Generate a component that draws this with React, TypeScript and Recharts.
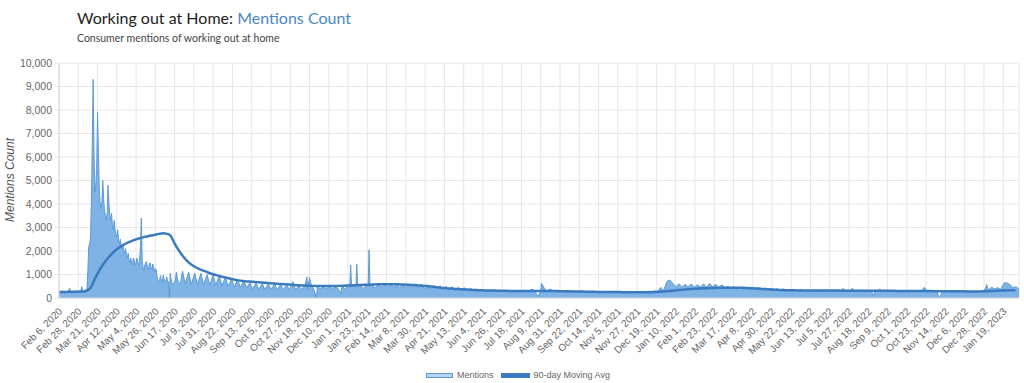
import { ComposedChart, Area, Line, XAxis, YAxis, CartesianGrid } from "recharts"

// one x label every 22 days, day 0 = Feb 6, 2020
const tickLabels = [
  "Feb 6, 2020", "Feb 28, 2020", "Mar 21, 2020", "Apr 12, 2020", "May 4, 2020", "May 26, 2020",
  "Jun 17, 2020", "Jul 9, 2020", "Jul 31, 2020", "Aug 22, 2020", "Sep 13, 2020", "Oct 5, 2020",
  "Oct 27, 2020", "Nov 18, 2020", "Dec 10, 2020", "Jan 1, 2021", "Jan 23, 2021", "Feb 14, 2021",
  "Mar 8, 2021", "Mar 30, 2021", "Apr 21, 2021", "May 13, 2021", "Jun 4, 2021", "Jun 26, 2021",
  "Jul 18, 2021", "Aug 9, 2021", "Aug 31, 2021", "Sep 22, 2021", "Oct 14, 2021", "Nov 5, 2021",
  "Nov 27, 2021", "Dec 19, 2021", "Jan 10, 2022", "Feb 1, 2022", "Feb 23, 2022", "Mar 17, 2022",
  "Apr 8, 2022", "Apr 30, 2022", "May 22, 2022", "Jun 13, 2022", "Jul 5, 2022", "Jul 27, 2022",
  "Aug 18, 2022", "Sep 9, 2022", "Oct 1, 2022", "Oct 23, 2022", "Nov 14, 2022", "Dec 6, 2022",
  "Dec 28, 2022", "Jan 19, 2023",
]
const TICK_STEP = 22
const LAST_DAY = 1096
const yTicks = [0, 1000, 2000, 3000, 4000, 5000, 6000, 7000, 8000, 9000, 10000]

// daily mentions, days 0-139 (Feb 6 - Jun 24, 2020)
const dailyMentions = [
  260, 250, 240, 270, 300, 280, 250, 240, 260, 250, 270, 310, 420, 300, 260, 250, 240,
  260, 280, 300, 270, 250, 240, 260, 280, 300, 480, 320, 280, 300, 320, 340, 380,
  1200, 2200, 2300, 2600, 4200, 6500, 9300,
  6000, 4500, 4800, 5500, 7900, 6200, 4600, 4000, 3800, 4100,
  5000, 4200, 3700, 3500, 3300, 3600, 4800, 4000, 3500, 3300,
  3600, 3000, 2900, 3300, 2900, 2700, 2600, 2900, 2400, 2300,
  2500, 2200, 2100, 2300, 2000, 1900, 2100, 1800, 1700, 1900,
  1600, 1500, 1700, 1400, 1500, 1700, 1600, 1400, 1500, 1700,
  1500, 1400, 1600, 2200, 3400, 1600, 1300, 1200, 1400, 1500,
  1550, 1300, 1200, 1400, 1500, 1300, 1200, 1450, 1300, 1100,
  1250, 1200, 900, 750, 700, 800, 950, 700, 650, 980,
  800, 650, 700, 900, 700, 700, 0, 1050, 800, 650,
  600, 650, 700, 800, 1100, 850, 700, 620, 600, 700,
]

// after that: weekly high (day 141 + 7k) and weekly low (day 144 + 7k)
const weeklyHighs = [
  1150, 1100, 1050, 1050, 1000, 980, 950, 880, 800, 780, 740,
  650, 640, 620, 600, 600, 580, 560,
  700, 520, 560, 560, 520, 500, 510, 500, 520, 500, 520, 540, 520, 560,
  600, 600, 620, 600, 610, 600, 590, 580,
  560, 540, 520, 500, 480, 460, 440, 420, 380, 350,
  330, 330, 320, 330, 320, 320, 330,
  380, 400, 420, 380,
  300, 290, 290, 290, 280, 290, 280, 280, 280, 290, 280, 280, 290, 280, 290, 290, 300,
  450, 700, 620, 600, 580, 600, 560,
  600, 620, 580, 560,
  500, 480, 460, 460, 450, 440, 430, 420, 400, 380,
  330, 340, 330, 320, 330, 320, 330, 340, 330, 330,
  340, 340, 330, 320, 330, 320, 330, 320, 310, 320,
  330, 320, 310, 320, 310, 300, 310, 300, 300, 300, 300,
  300, 420, 460, 440, 640, 560, 470,
]
const weeklyLows = [
  600, 580, 560, 560, 550, 540, 520, 500, 470, 450, 430,
  380, 370, 360, 350, 350, 340, 340,
  360, 350, 360, 370, 380, 380, 390, 380, 390, 400, 400, 410, 420, 430,
  460, 450, 450, 440, 440, 430, 420, 400,
  380, 360, 340, 320, 300, 300, 290, 280, 280, 270,
  270, 270, 260, 270, 260, 270, 270,
  300, 310, 300, 290,
  250, 250, 240, 250, 240, 250, 240, 240, 250, 240, 240, 250, 240, 240, 250, 250, 260,
  300, 500, 480, 460, 470, 450, 460,
  460, 470, 450, 440,
  380, 360, 350, 340, 340, 330, 320, 320, 300, 290,
  270, 280, 270, 270, 260, 270, 280, 270, 260, 270,
  280, 270, 270, 260, 270, 260, 270, 260, 250, 260,
  270, 260, 250, 260, 250, 250, 250, 240, 250, 240, 250,
  250, 350, 380, 360, 400, 440, 380,
]
// single-day spikes and dips [day, mentions]
const mentionSpikes: [number, number][] = [
  [283, 900], [286, 870], [294, 0], [322, 200],
  [332, 480], [333, 1400], [334, 480], [339, 480], [340, 1430], [341, 480],
  [353, 500], [354, 2050], [355, 500],
  [547, 60], [551, 620], [618, 170], [633, 180], [697, 770],
  [846, 380], [895, 410], [906, 420], [930, 100], [937, 380], [988, 460],
  [1005, 0], [1059, 570], [1082, 650],
]

// 90-day moving average, one value every 7 days
const movingAvg = [
  260, 260, 265, 270, 275, 380, 900, 1350, 1700, 1980,
  2180, 2330, 2440, 2530, 2600, 2660, 2710, 2760, 2700, 2250,
  1850, 1550, 1350, 1220, 1120, 1020, 950, 880, 820, 760,
  720, 700, 680, 660, 640, 620, 600, 580, 560, 540,
  530, 520, 510, 510, 510, 510, 520, 530, 540, 550,
  560, 570, 580, 580, 580, 580, 575, 565, 550, 530,
  510, 480, 450, 420, 400, 380, 365, 350, 340, 330,
  320, 315, 310, 305, 300, 300, 300, 300, 300, 300,
  300, 295, 290, 285, 280, 275, 270, 265, 260, 260,
  255, 255, 250, 250, 250, 250, 250, 255, 265, 285,
  310, 340, 360, 380, 395, 410, 420, 430, 435, 440,
  440, 440, 430, 420, 400, 380, 365, 350, 340, 330,
  325, 320, 320, 320, 318, 316, 315, 314, 313, 312,
  311, 310, 309, 308, 307, 306, 305, 303, 301, 299,
  297, 295, 293, 291, 289, 287, 285, 283, 281, 280,
  280, 285, 295, 305, 315, 325, 335,
]

type Row = { day: number; mentions?: number; avg?: number }

const rows = new Map<number, Row>()
const put = (day: number, key: "mentions" | "avg", value: number) => {
  const row = rows.get(day) ?? { day }
  row[key] = value
  rows.set(day, row)
}
dailyMentions.forEach((v, i) => put(i, "mentions", v))
weeklyHighs.forEach((v, k) => put(141 + 7 * k, "mentions", v))
weeklyLows.forEach((v, k) => put(144 + 7 * k, "mentions", v))
mentionSpikes.forEach(([d, v]) => put(d, "mentions", v))
movingAvg.forEach((v, i) => put(7 * i, "avg", v))
const data = [...rows.values()].sort((a, b) => a.day - b.day)

const dayTicks = tickLabels.map((_, i) => i * TICK_STEP)

const DateTick = (props: any) => {
  const { x, y, payload } = props
  const ax = x + 4
  const ay = y + 14
  return (
    <text
      x={ax}
      y={ay}
      transform={`rotate(-45, ${ax}, ${ay})`}
      textAnchor="end"
      fontSize={10}
      fill="#666"
      fontFamily="'Liberation Sans', Arial, sans-serif"
    >
      {tickLabels[Math.round(payload.value / TICK_STEP)]}
    </text>
  )
}

export default function App() {
  return (
    <div
      style={{
        position: "relative",
        width: 1024,
        height: 383,
        background: "#fff",
        fontFamily: "'Liberation Sans', Arial, sans-serif",
      }}
    >
      <style>{"body { margin: 0; }"}</style>
      <div
        style={{
          position: "absolute",
          left: 77,
          top: 8,
          fontFamily: "Lato, 'Open Sans', sans-serif",
          fontSize: 16,
          color: "#222",
          whiteSpace: "nowrap",
        }}
      >
        Working out at Home: <span style={{ color: "#4a86c5" }}>Mentions Count</span>
      </div>
      <div
        style={{
          position: "absolute",
          left: 77,
          top: 32,
          fontFamily: "Lato, 'Open Sans', sans-serif",
          fontSize: 10.5,
          color: "#444",
          whiteSpace: "nowrap",
        }}
      >
        Consumer mentions of working out at home
      </div>
      <div
        style={{
          position: "absolute",
          left: 10,
          top: 180,
          transform: "translate(-50%, -50%) rotate(-90deg)",
          fontSize: 12,
          fontStyle: "italic",
          color: "#555",
          whiteSpace: "nowrap",
        }}
      >
        Mentions Count
      </div>

      <ComposedChart width={1024} height={383} data={data} margin={{ top: 63, right: 5, bottom: 0, left: 8 }}>
        <CartesianGrid stroke="#e6e6e6" />
        <XAxis
          dataKey="day"
          type="number"
          domain={[0, LAST_DAY]}
          ticks={dayTicks}
          interval={0}
          tick={<DateTick />}
          tickLine={false}
          tickSize={0}
          tickMargin={0}
          height={85}
          axisLine={{ stroke: "#d9d9d9" }}
        />
        <YAxis
          domain={[0, 10000]}
          ticks={yTicks}
          width={51}
          tickFormatter={(v: number) => v.toLocaleString("en-US")}
          tick={{ fontSize: 10.5, fill: "#666" }}
          tickSize={4}
          tickMargin={3}
          tickLine={{ stroke: "#e6e6e6" }}
          axisLine={{ stroke: "#d9d9d9" }}
        />
        <Area
          dataKey="mentions"
          type="linear"
          stroke="#5b9bd5"
          strokeWidth={1}
          fill="#7fb2e5"
          fillOpacity={1}
          connectNulls
          dot={false}
          activeDot={false}
          isAnimationActive={false}
        />
        <Line
          dataKey="avg"
          type="monotone"
          stroke="#3a7bbf"
          strokeWidth={2.5}
          dot={false}
          activeDot={false}
          connectNulls
          isAnimationActive={false}
        />
      </ComposedChart>

      <div
        style={{
          position: "absolute",
          top: 370,
          left: 426,
          display: "flex",
          alignItems: "center",
          fontSize: 9,
          color: "#666",
          whiteSpace: "nowrap",
        }}
      >
        <span style={{ width: 25, height: 3, background: "#b7d4f0", border: "1px solid #5b9bd5", marginRight: 4 }} />
        <span style={{ marginRight: 7 }}>Mentions</span>
        <span style={{ width: 29, height: 5, background: "#3a7bbf", marginRight: 4 }} />
        <span>90-day Moving Avg</span>
      </div>
    </div>
  )
}
